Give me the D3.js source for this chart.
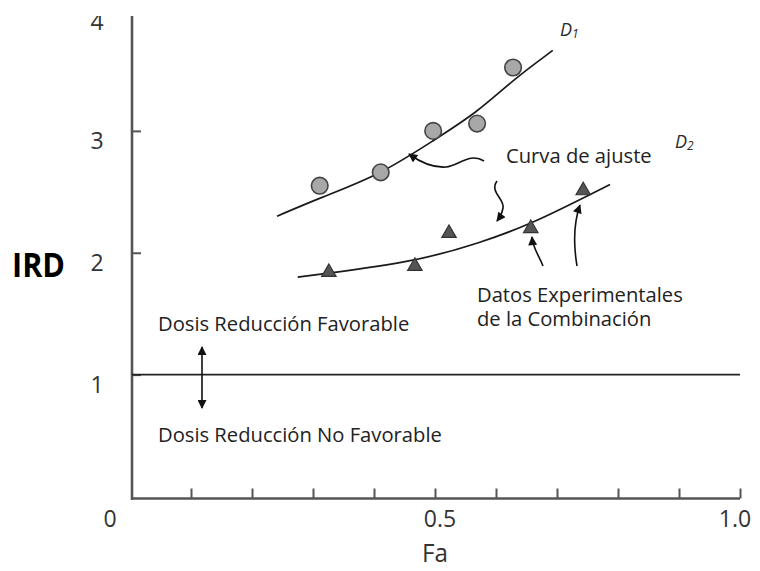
<!DOCTYPE html>
<html>
<head>
<meta charset="utf-8">
<script src="https://cdn.jsdelivr.net/npm/d3@7"></script>
<style>
  html, body { margin: 0; padding: 0; background: #fff; }
  svg { display: block; }
  text { font-family: "Open Sans", sans-serif; }
</style>
</head>
<body>
<svg id="chart" width="760" height="571"></svg>
<script>
// ---- data ----
const xTicks = [0.1, 0.2, 0.3, 0.4, 0.5, 0.6, 0.7, 0.8, 0.9, 1.0];
const xTickLabels = [{v: 0, t: "0"}, {v: 0.5, t: "0.5"}, {v: 1.0, t: "1.0"}];
const yTicks = [1, 2, 3, 4];
const yTickLabels = ["1", "2", "3", "4"];

// D1 experimental points (circles)
const d1Fa  = [0.311, 0.411, 0.497, 0.569, 0.628];
const d1IRD = [2.55, 2.66, 3.00, 3.06, 3.52];
// D1 fitted curve
const d1CurveFa  = [0.241, 0.311, 0.410, 0.497, 0.569, 0.628, 0.693];
const d1CurveIRD = [2.30, 2.45, 2.64, 2.92, 3.15, 3.42, 3.66];

// D2 experimental points (triangles)
const d2Fa  = [0.326, 0.467, 0.523, 0.657, 0.743];
const d2IRD = [1.84, 1.89, 2.16, 2.20, 2.51];
// D2 fitted curve
const d2CurveFa  = [0.275, 0.464, 0.574, 0.659, 0.743, 0.787];
const d2CurveIRD = [1.80, 1.92, 2.08, 2.24, 2.45, 2.56];

const refIRD = 1;

// ---- chart ----
const svg = d3.select("#chart");
const x = d3.scaleLinear().domain([0, 1]).range([130, 740]);
const y = d3.scaleLinear().domain([0, 4]).range([496.5, 9]);

const axisColor = "#555";

// markers
const defs = svg.append("defs");
defs.append("marker")
  .attr("id", "head").attr("viewBox", "0 0 10 10")
  .attr("refX", 9).attr("refY", 5)
  .attr("markerWidth", 10).attr("markerHeight", 9)
  .attr("markerUnits", "userSpaceOnUse")
  .attr("orient", "auto-start-reverse")
  .append("path").attr("d", "M0,0 L10,5 L0,10 Z").attr("fill", "#111");

// x axis
const gx = svg.append("g").attr("transform", "translate(0,498.5)")
  .call(d3.axisBottom(x).tickValues(xTicks).tickSize(-10).tickFormat("").tickSizeOuter(0));
gx.select(".domain").attr("stroke", axisColor).attr("stroke-width", 2.6)
  .attr("d", `M${x(0)+1},0H${x(1)}`);
gx.selectAll(".tick line").attr("stroke", axisColor).attr("stroke-width", 2);

// y axis
const gy = svg.append("g").attr("transform", `translate(${x(0)+2},0)`)
  .call(d3.axisLeft(y).tickValues(yTicks).tickSize(-9).tickFormat("").tickSizeOuter(0));
gy.select(".domain").attr("stroke", axisColor).attr("stroke-width", 2.6)
  .attr("d", `M0,${y(4)}V${498.5+1.3}`);
gy.selectAll(".tick line").attr("stroke", axisColor).attr("stroke-width", 2);

// tick labels
svg.append("g").selectAll("text").data(yTicks).join("text")
  .attr("x", 97).attr("y", d => y(d) + (d === 4 ? 21 : 18))
  .attr("text-anchor", "middle").attr("font-size", 23).attr("fill", "#333")
  .text((d, i) => yTickLabels[i]);

const xLabOffset = {0: -20, 0.5: 5, 1: -5};
svg.append("g").selectAll("text").data(xTickLabels).join("text")
  .attr("x", d => x(d.v) + xLabOffset[d.v]).attr("y", 527)
  .attr("text-anchor", "middle").attr("font-size", 23).attr("fill", "#333")
  .text(d => d.t);

// axis titles
svg.append("text").attr("x", 435).attr("y", 562).attr("text-anchor", "middle")
  .attr("font-size", 26).attr("fill", "#333")
  .attr("textLength", 26).attr("lengthAdjust", "spacingAndGlyphs").text("Fa");
svg.append("text").attr("x", 12).attr("y", 277)
  .attr("font-size", 34).attr("font-weight", 700).attr("fill", "#000")
  .attr("textLength", 53).attr("lengthAdjust", "spacingAndGlyphs").text("IRD");

// reference line IRD = 1
svg.append("line").attr("x1", x(0)+2).attr("x2", x(1)).attr("y1", y(refIRD)).attr("y2", y(refIRD))
  .attr("stroke", "#222").attr("stroke-width", 1.8);

// fitted curves
const line = d3.line().x(d => x(d[0])).y(d => y(d[1])).curve(d3.curveBasis);
svg.append("path").datum(d1CurveFa.map((v, i) => [v, d1CurveIRD[i]]))
  .attr("d", line).attr("fill", "none").attr("stroke", "#1a1a1a").attr("stroke-width", 1.7);
svg.append("path").datum(d2CurveFa.map((v, i) => [v, d2CurveIRD[i]]))
  .attr("d", line).attr("fill", "none").attr("stroke", "#1a1a1a").attr("stroke-width", 1.7);

// D1 points
svg.append("g").selectAll("circle").data(d1Fa).join("circle")
  .attr("cx", d => x(d)).attr("cy", (d, i) => y(d1IRD[i])).attr("r", 8.3)
  .attr("fill", "#a8a8a8").attr("stroke", "#444").attr("stroke-width", 1.6);

// D2 points
const tri = d3.symbol().type(d3.symbolTriangle).size(90);
svg.append("g").selectAll("path").data(d2Fa).join("path")
  .attr("transform", (d, i) => `translate(${x(d)},${y(d2IRD[i])})`)
  .attr("d", tri).attr("fill", "#555").attr("stroke", "#333").attr("stroke-width", 1.2);

// series labels
function seriesLabel(px, py, sub) {
  const t = svg.append("text").attr("x", px).attr("y", py)
    .attr("font-size", 18).attr("font-style", "italic").attr("fill", "#2a2a2a");
  t.append("tspan").text("D");
  t.append("tspan").attr("font-size", 12).attr("dy", 2).text(sub);
}
seriesLabel(560, 36, "1");
seriesLabel(675, 148, "2");

// annotation box
svg.append("rect").attr("x", 490).attr("y", 138).attr("width", 183).attr("height", 40).attr("fill", "#fff");

const annoFont = 20.2;
const textColor = "#222";
svg.append("text").attr("x", 506).attr("y", 163).attr("font-size", annoFont).attr("fill", textColor)
  .text("Curva de ajuste");
svg.append("text").attr("x", 477).attr("y", 301.5).attr("font-size", annoFont).attr("fill", textColor)
  .text("Datos Experimentales");
svg.append("text").attr("x", 477).attr("y", 325.5).attr("font-size", annoFont).attr("fill", textColor)
  .text("de la Combinación");
svg.append("text").attr("x", 158).attr("y", 331).attr("font-size", annoFont).attr("fill", textColor)
  .text("Dosis Reducción Favorable");
svg.append("text").attr("x", 158).attr("y", 441.5).attr("font-size", annoFont).attr("fill", textColor)
  .text("Dosis Reducción No Favorable");

// annotation arrows
const arrows = [
  "M484,161 C470,152 458,166 446,167 C432,168 420,162 409,154",
  "M497,181 C489,192 505,199 503,208 C502,214 500,217 497,221",
  "M543,266 C539,255 533,249 532,237",
  "M577,266 C573,242 574,222 580,205"
];
svg.append("g").selectAll("path").data(arrows).join("path")
  .attr("d", d => d).attr("fill", "none").attr("stroke", "#111").attr("stroke-width", 1.6)
  .attr("marker-end", "url(#head)");

// double arrow
svg.append("line").attr("x1", 202).attr("x2", 202).attr("y1", 347).attr("y2", 408)
  .attr("stroke", "#111").attr("stroke-width", 1.6)
  .attr("marker-start", "url(#head)").attr("marker-end", "url(#head)");

// top crop of original figure
svg.append("rect").attr("x", 0).attr("y", 0).attr("width", 300).attr("height", 16).attr("fill", "#fff");
</script>
</body>
</html>
